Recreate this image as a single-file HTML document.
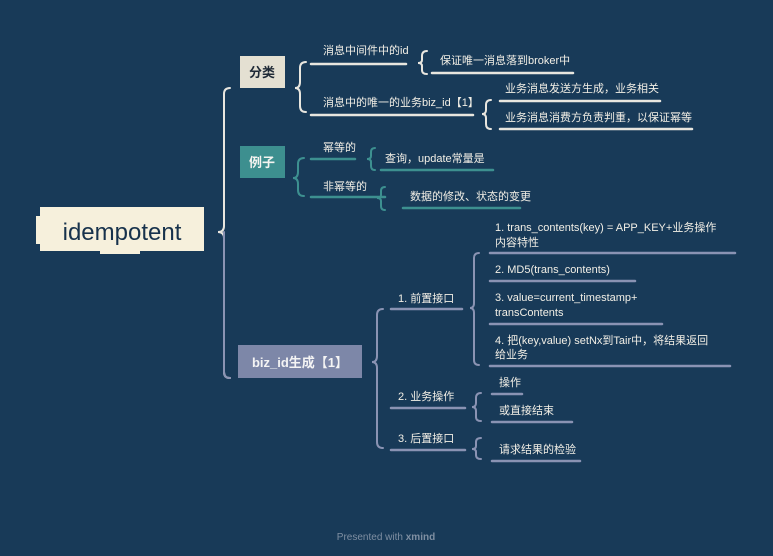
<!DOCTYPE html>
<html><head><meta charset="utf-8"><style>
html,body{margin:0;padding:0;background:#183a58;}
svg{display:block}
text{font-family:"Liberation Sans","Noto Sans CJK SC",sans-serif;font-size:11px;fill:#f2efe6;}
.u{stroke:#e8e6df;stroke-width:2.5;stroke-linecap:round}
.t{stroke:#3d9090;stroke-width:2.5;stroke-linecap:round}
.s{stroke:#8a93b3;stroke-width:2.5;stroke-linecap:round}
.b{fill:none;stroke-width:2;stroke-linecap:round}
</style></head><body>
<svg width="773" height="556" viewBox="0 0 773 556" xmlns="http://www.w3.org/2000/svg">
<rect width="773" height="556" fill="#183a58"/>
<!-- root -->
<rect x="40" y="207" width="164" height="44" fill="#f6f0dc"/>
<rect x="36" y="216" width="8" height="28" fill="#f6f0dc"/>
<rect x="100" y="250" width="40" height="4" fill="#f6f0dc"/>
<text x="122" y="240" text-anchor="middle" style="font-size:24px;fill:#17324c;font-weight:500">idempotent</text>
<!-- main bracket -->
<path class="b" stroke="#e8e6df" d="M230 88 Q224 88 224 94 L224 226 Q224 232 218 232 Q224 232 224 238 L224 372 Q224 378 230 378"/>
<path class="b" d="M224 232 L224 372 Q224 378 230 378" stroke="#8a93b3"/>
<!-- 分类 -->
<rect x="240" y="56" width="45" height="32" fill="#e4e0d2"/>
<text x="262" y="77" text-anchor="middle" style="font-size:13px;font-weight:bold;fill:#1f2a36">分类</text>
<path class="b" stroke="#e8e6df" d="M306 62 Q300 62 300 68 L300 82 Q300 88 295 88 Q300 88 300 94 L300 106 Q300 112 306 112"/>
<text x="323" y="54">消息中间件中的id</text><line class="u" x1="311" y1="64" x2="406" y2="64"/>
<path class="b" stroke="#e8e6df" d="M427 51 Q422 51 422 56 L422 60 Q422 63 418 63 Q422 63 422 66 L422 70 Q422 74 427 74"/>
<text x="440" y="64">保证唯一消息落到broker中</text><line class="u" x1="432" y1="73" x2="573" y2="73"/>
<text x="323" y="106">消息中的唯一的业务biz_id【1】</text><line class="u" x1="311" y1="115" x2="473" y2="115"/>
<path class="b" stroke="#e8e6df" d="M491 100 Q486 100 486 105 L486 110 Q486 114 482 114 Q486 114 486 118 L486 124 Q486 129 491 129"/>
<text x="505" y="92">业务消息发送方生成，业务相关</text><line class="u" x1="500" y1="101" x2="660" y2="101"/>
<text x="505" y="121">业务消息消费方负责判重，以保证幂等</text><line class="u" x1="500" y1="129" x2="692" y2="129"/>
<!-- 例子 -->
<rect x="240" y="146" width="45" height="32" fill="#3d8f8f"/>
<text x="262" y="167" text-anchor="middle" style="font-size:13px;font-weight:bold;fill:#f4f4f0">例子</text>
<path class="b" stroke="#3d9090" d="M304 158 Q298 158 298 164 L298 172 Q298 178 293 178 Q298 178 298 184 L298 190 Q298 196 304 196"/>
<text x="323" y="151">幂等的</text><line class="t" x1="311" y1="159" x2="355" y2="159"/>
<path class="b" stroke="#3d9090" d="M375 148 Q371 148 371 152 L371 156 Q371 159 367 159 Q371 159 371 162 L371 166 Q371 170 375 170"/>
<text x="385" y="162">查询，update常量是</text><line class="t" x1="381" y1="170" x2="493" y2="170"/>
<text x="323" y="190">非幂等的</text><line class="t" x1="311" y1="197" x2="385" y2="197"/>
<path class="b" stroke="#3d9090" d="M385 187 Q381 187 381 191 L381 195 Q381 198 377 198 Q381 198 381 201 L381 206 Q381 210 385 210"/>
<text x="410" y="200">数据的修改、状态的变更</text><line class="t" x1="403" y1="208" x2="520" y2="208"/>
<!-- biz -->
<rect x="238" y="345" width="124" height="33" fill="#7d87a8"/>
<text x="300" y="367" text-anchor="middle" style="font-size:13px;font-weight:bold;fill:#f4f4f4">biz_id生成【1】</text>
<path class="b" stroke="#8a93b3" d="M383 309 Q377 309 377 315 L377 356 Q377 362 372 362 Q377 362 377 368 L377 442 Q377 448 383 448"/>
<text x="398" y="302">1. 前置接口</text><line class="s" x1="391" y1="309" x2="462" y2="309"/>
<path class="b" stroke="#8a93b3" d="M479 253 Q474 253 474 258 L474 303 Q474 308 470 308 Q474 308 474 313 L474 360 Q474 365 479 365"/>
<text x="495" y="231">1. trans_contents(key) = APP_KEY+业务操作</text>
<text x="495" y="246">内容特性</text><line class="s" x1="490" y1="253" x2="735" y2="253"/>
<text x="495" y="273">2. MD5(trans_contents)</text><line class="s" x1="490" y1="281" x2="635" y2="281"/>
<text x="495" y="301">3. value=current_timestamp+</text>
<text x="495" y="316">transContents</text><line class="s" x1="490" y1="324" x2="662" y2="324"/>
<text x="495" y="344">4. 把(key,value) setNx到Tair中，将结果返回</text>
<text x="495" y="358">给业务</text><line class="s" x1="490" y1="366" x2="730" y2="366"/>
<text x="398" y="400">2. 业务操作</text><line class="s" x1="391" y1="408" x2="465" y2="408"/>
<path class="b" stroke="#8a93b3" d="M481 393 Q476 393 476 398 L476 403 Q476 407 472 407 Q476 407 476 411 L476 417 Q476 421 481 421"/>
<text x="499" y="386">操作</text><line class="s" x1="492" y1="394" x2="522" y2="394"/>
<text x="499" y="414">或直接结束</text><line class="s" x1="492" y1="422" x2="572" y2="422"/>
<text x="398" y="442">3. 后置接口</text><line class="s" x1="391" y1="450" x2="465" y2="450"/>
<path class="b" stroke="#8a93b3" d="M481 438 Q476 438 476 442 L476 446 Q476 449 472 449 Q476 449 476 452 L476 455 Q476 459 481 459"/>
<text x="499" y="453">请求结果的检验</text><line class="s" x1="492" y1="461" x2="580" y2="461"/>
<text x="386" y="540" text-anchor="middle" style="font-size:10px;fill:#7f8fa2">Presented with <tspan style="font-weight:bold">xmind</tspan></text>
</svg>
</body></html>
